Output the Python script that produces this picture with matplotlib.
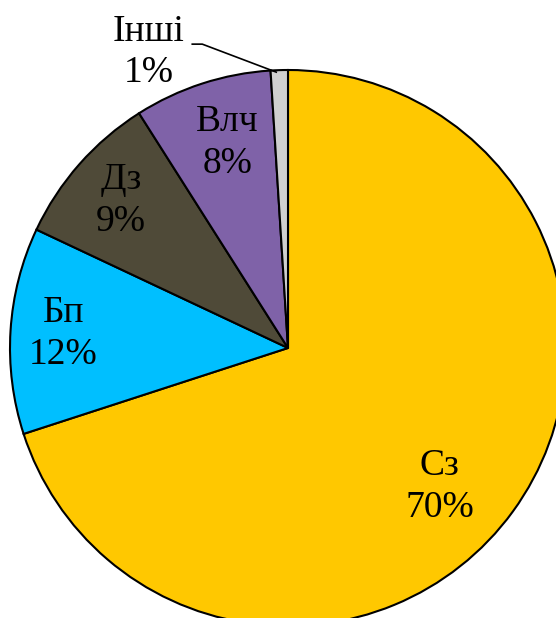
import numpy as np
import matplotlib.pyplot as plt

labels = ["Сз", "Бп", "Дз", "Влч", "Інші"]
shares = [70, 12, 9, 8, 1]
colors = ["#FFC800", "#00BFFF", "#4F4A38", "#7F62A8", "#CFCFCF"]
# label radius (fraction of R) and angular nudge (deg) per slice
label_dist = [0.74, 0.81, 0.80, 0.77, None]
label_shift = [-6.5, 0, 0, -1.5, 0]

plt.rcParams["font.family"] = ["Liberation Serif", "DejaVu Serif"]

W, H = 556, 618
cx, cy, R = 288, 348, 278

fig = plt.figure(figsize=(W / 100, H / 100), dpi=100)
ax = fig.add_axes([0, 0, 1, 1])

wedges, _ = ax.pie(
    shares,
    colors=colors,
    startangle=90,
    counterclock=False,
    radius=R,
    wedgeprops=dict(edgecolor="black", linewidth=1.5),
)
# pie() resets limits, so set them afterwards
ax.set_xlim(-cx, W - cx)
ax.set_ylim(-(H - cy), cy)
ax.set_aspect("equal")
ax.axis("off")

fs, ls = 27, 1.27
for w, lab, val, d, sh in zip(wedges, labels, shares, label_dist, label_shift):
    mid = np.deg2rad((w.theta1 + w.theta2) / 2 + sh)
    if d is not None:
        ax.text(d * R * np.cos(mid), d * R * np.sin(mid), f"{lab}\n{val}%",
                ha="center", va="center", fontsize=fs, linespacing=ls)
    else:
        ex, ey = R * np.cos(mid), R * np.sin(mid)
        tx, ty = ex - 131, ey + 18
        ax.text(tx, ty, f"{lab}\n{val}%", ha="center", va="center",
                fontsize=fs, linespacing=ls)
        ax.plot([tx + 44, tx + 54, ex - 3], [ty + 8, ty + 8, ey - 2],
                color="black", linewidth=1.2)

fig.savefig("out.png", dpi=100)
